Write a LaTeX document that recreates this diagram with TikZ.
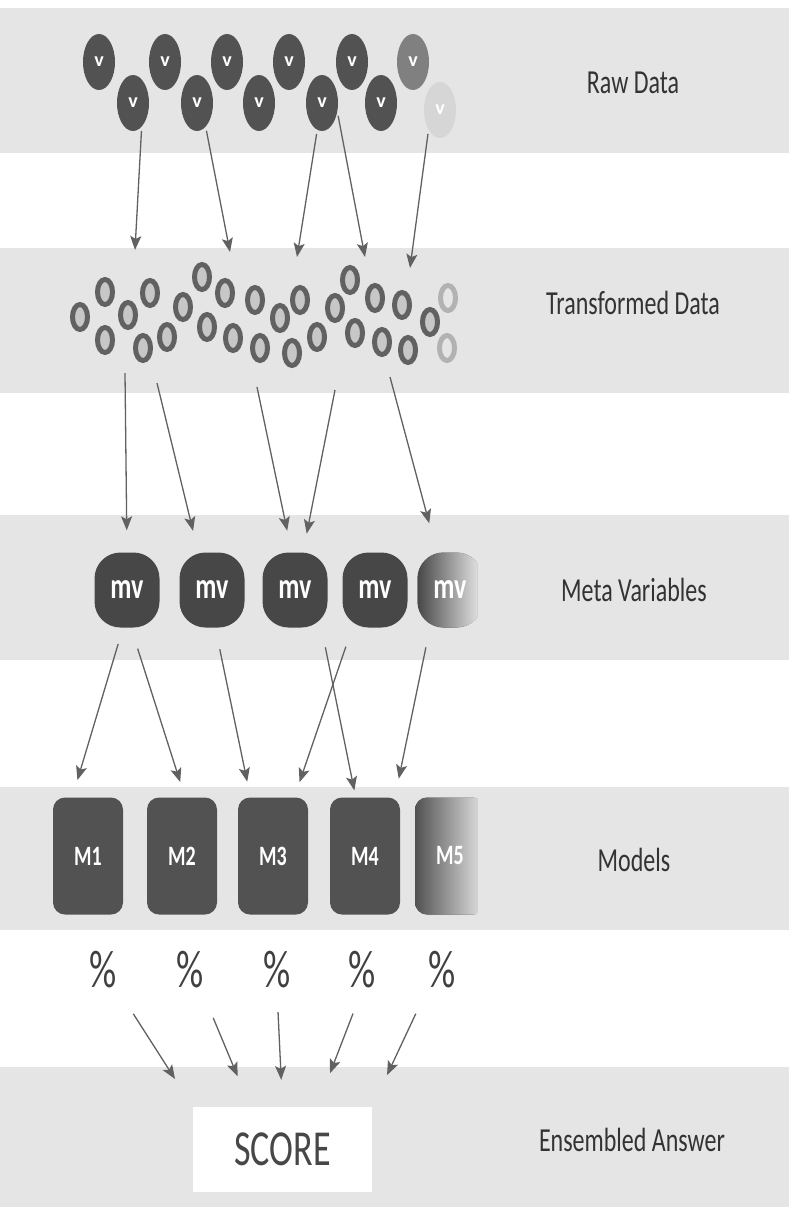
\documentclass[tikz,border=0pt]{standalone}
\usepackage{fontspec}
\setmainfont{Carlito}
\usetikzlibrary{arrows.meta,shapes.geometric}

\newcommand{\tallt}[1]{\scalebox{1}[1.4]{#1}}

\tikzset{
  band/.style={fill=black!10, draw=none},
  layer/.style={text=black!80, font=\fontsize{24}{24}\selectfont},
  rawnode/.style={ellipse, fill=black!68, minimum width=32pt, minimum height=56pt, inner sep=0pt, text=white, font=\bfseries\fontsize{20}{20}\selectfont},
  tnode/.style={ellipse, draw=black!62, line width=5pt, fill=black!22, minimum width=15pt, minimum height=25pt, inner sep=0pt},
  mvnode/.style={rectangle, rounded corners=26pt, fill=black!72, minimum width=65pt, minimum height=75pt, inner sep=0pt, text=white, font=\bfseries\fontsize{26}{26}\selectfont},
  mnode/.style={rectangle, rounded corners=12pt, fill=black!68, minimum width=70pt, minimum height=117pt, inner sep=0pt, text=white, font=\bfseries\fontsize{20}{20}\selectfont},
  pct/.style={text=black!75, font=\fontsize{38}{38}\selectfont, inner sep=0pt, minimum width=30pt, minimum height=40pt},
  link/.style={draw=black!62, line width=1.3pt, -{Stealth[length=14pt, width=11pt, inset=3pt]}},
}

\begin{document}
\begin{tikzpicture}[x=1pt, y=-1pt]
    \useasboundingbox (0,0) rectangle (789,1209);

    % Fasce
    \fill[band] (0,8) rectangle (789,153);
    \fill[band] (0,248) rectangle (789,393);
    \fill[band] (0,515) rectangle (789,660);
    \fill[band] (0,787) rectangle (789,930);
    \fill[band] (0,1067) rectangle (789,1207);

    % Etichette
    \node[layer] (lraw) at (633,83) {\tallt{Raw Data}};
    \node[layer] (ltrans) at (633,303) {\tallt{Transformed Data}};
    \node[layer] (lmeta) at (634,590) {\tallt{Meta Variables}};
    \node[layer] (lmodels) at (634,860) {\tallt{Models}};
    \node[layer] (lens) at (632,1140) {\tallt{Ensembled Answer}};

    % Raw data
    \foreach \x [count=\i] in {99,165,227,289,352}
        \node[rawnode] (rt\i) at (\x,62) {v};
    \node[rawnode, fill=black!50] (rt6) at (413,62) {v};
    \foreach \x [count=\i] in {133,197,259,322,381}
        \node[rawnode] (rb\i) at (\x,103) {v};
    \node[rawnode, fill=black!16] (rb6) at (440,110) {v};

    % Transformed data
    \foreach \x/\y [count=\i] in {80/317, 105/292, 105/340, 128/315, 150/293, 143/348,
        167/337, 183/307, 202/277, 207/327, 225/293, 233/338, 255/300, 260/348,
        280/318, 300/300, 292/353, 317/337, 335/308, 350/280, 355/333, 375/298,
        382/342, 402/305, 408/350, 430/322}
        \node[tnode] (t\i) at (\x,\y) {};
    \node[tnode, draw=black!30, fill=black!10] (t27) at (448,298) {};
    \node[tnode, draw=black!30, fill=black!10] (t28) at (447,348) {};

    % Meta variables
    \foreach \x [count=\i] in {127,212,295,375}
        \node[mvnode] (mv\i) at (\x,590) {\tallt{mv}};

    % Models
    \foreach \x [count=\i] in {88,182,273,365}
        \node[mnode] (m\i) at (\x,856) {\tallt{M\i}};

    % Ultima colonna sfumata
    \begin{scope}
        \clip (0,0) rectangle (477,1209);
        \node[mvnode, left color=black!72, right color=black!8] (mv5) at (450,590) {\tallt{mv}};
        \node[mnode, left color=black!68, right color=black!10] (m5) at (450,856) {\tallt{M5}};
    \end{scope}

    % Percentuali
    \foreach \x [count=\i] in {103,190,277,362,442}
        \node[pct] (p\i) at (\x,970) {\tallt{\%}};

    % Score
    \node[fill=white, minimum width=179pt, minimum height=85pt, text=black!72,
        font=\fontsize{36}{36}\selectfont] (score) at (282.5,1149.5) {\tallt{SCORE}};

    % Frecce raw -> transformed
    \coordinate (in1) at (135,250);
    \coordinate (in2) at (230,252);
    \coordinate (in3) at (297,257);
    \coordinate (in4) at (365,257);
    \coordinate (in5) at (410,268);
    \draw[link, shorten <=4pt] (rb1.-70) -- (in1);
    \draw[link, shorten <=4pt] (rb2.-70) -- (in2);
    \draw[link, shorten <=4pt] (rb4.-100) -- (in3);
    \draw[link, shorten <=4pt] (rb4.-30) -- (in4);
    \draw[link, shorten <=4pt] (rb6.-120) -- (in5);

    % Frecce transformed -> meta
    \coordinate (out1) at (125,373);
    \coordinate (out2) at (157,383);
    \coordinate (out3) at (257,387);
    \coordinate (out4) at (335,390);
    \coordinate (out5) at (390,377);
    \draw[link, shorten >=22pt] (out1) -- (mv1.north);
    \draw[link, shorten >=22pt] (out2) -- (mv2.110);
    \draw[link, shorten >=22pt] (out3) -- (mv3.95);
    \draw[link, shorten >=19pt] (out4) -- (mv3.78);
    \draw[link, shorten >=30pt] (out5) -- (mv5.109);

    % Frecce meta -> models
    \draw[link, shorten <=17pt, shorten >=18pt] (mv1.-96) -- (m1.105);
    \draw[link, shorten <=22pt, shorten >=16pt] (mv1.-84) -- (m2.87);
    \draw[link, shorten <=22pt, shorten >=16pt] (mv2.-85) -- (m3.111);
    \draw[link, shorten <=20pt, shorten >=7pt] (mv3.-55) -- (m4.99);
    \draw[link, shorten <=20pt, shorten >=16pt] (mv4.-121) -- (m3.70);
    \draw[link, shorten <=20pt, shorten >=19pt] (mv5.-118) -- (m4.63);

    % Frecce percentuali -> score
    \draw[link, shorten <=28pt, shorten >=33pt] (p1.south east) -- (score.north west);
    \draw[link, shorten <=30pt, shorten >=33pt] (p2.-60) -- (score.127);
    \draw[link, shorten <=22pt, shorten >=27pt] (p3.south) -- (score.north);
    \draw[link, shorten <=25pt, shorten >=36pt] (p4.south) -- (score.51);
    \draw[link, shorten <=26pt, shorten >=35pt] (p5.south west) -- (score.north east);
\end{tikzpicture}
\end{document}
